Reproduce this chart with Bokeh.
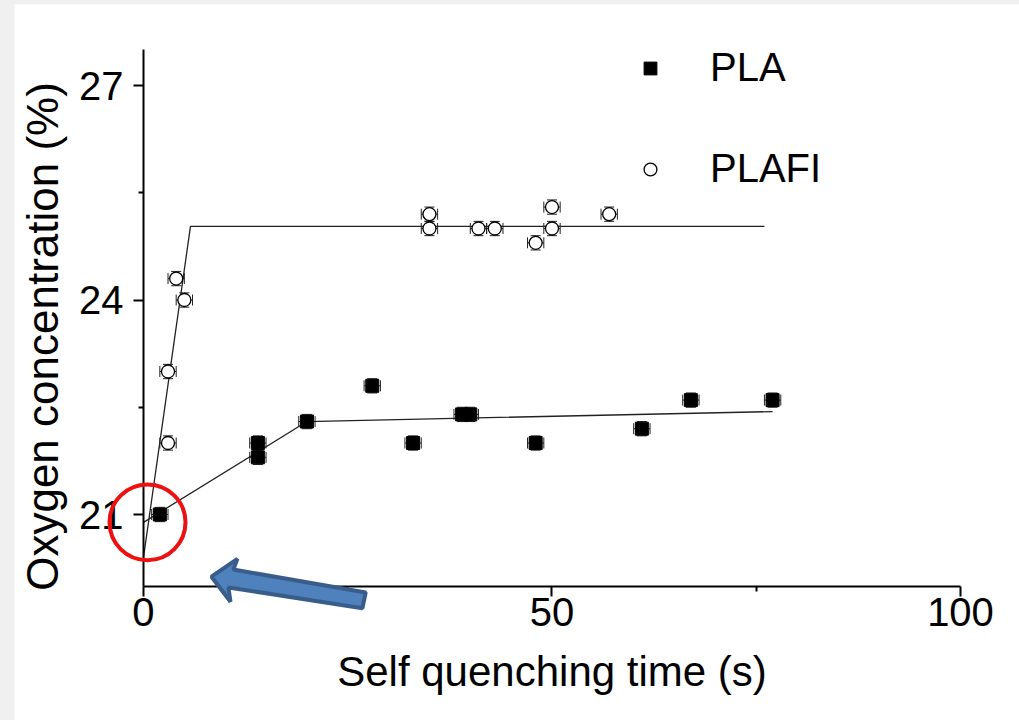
import math
from bokeh.plotting import figure
from bokeh.models import (ColumnDataSource, Whisker, TeeHead, Legend, LegendItem,
                          FixedTicker, PolyAnnotation, BoxAnnotation, Range1d, Label)
from bokeh.layouts import column
from bokeh.embed import file_html
from bokeh.resources import INLINE

# Measured oxygen concentration vs. self quenching time
pla_x = [2, 14, 14, 20, 28, 33, 39, 40, 48, 61, 67, 77]
pla_y = [21.0, 21.8, 22.0, 22.3, 22.8, 22.0, 22.4, 22.4, 22.0, 22.2, 22.6, 22.6]
plafi_x = [3, 3, 4, 5, 35, 35, 41, 43, 48, 50, 50, 57]
plafi_y = [22.0, 23.0, 24.3, 24.0, 25.2, 25.0, 25.0, 25.0, 24.8, 25.3, 25.0, 25.2]

# Uncertainty of each measurement
x_err = 1.0
y_err = 0.1

# Piecewise linear fits
pla_fit_x = [0, 20, 77]
pla_fit_y = [20.89, 22.3, 22.44]
plafi_fit_x = [0, 5.75, 76]
plafi_fit_y = [20.4, 25.03, 25.03]

# Axis extents and ticks
x_bounds = (0, 100)
y_bounds = (20, 27.5)
x_ticks = [0, 50, 100]
x_minor = [25, 75]
y_ticks = [21, 24, 27]
y_minor = [22.5, 25.5]

# Highlight of the intercept region and pointer arrow (data units)
ring_box = dict(left=-4.16, right=5.14, bottom=20.36, top=21.42)
arrow_x = [8.32, 11.5, 11.0, 27.2, 26.8, 10.4, 10.65]
arrow_y = [20.13, 20.38, 20.23, 19.91, 19.69, 19.98, 19.78]

FONT = "Liberation Sans"

# The plotting area spans the whole canvas; the axes sit at fixed data
# positions so that the annotations can reach past the axis lines.
p = figure(width=1005, height=716, output_backend="svg", toolbar_location=None,
           x_range=Range1d(-15.789, 107.222), y_range=Range1d(18.119, 28.133),
           min_border=0, min_border_left=0, min_border_right=0,
           min_border_top=0, min_border_bottom=0)
p.margin = (4, 0, 0, 14)
p.outline_line_color = None
p.grid.visible = False
p.background_fill_color = "white"
p.border_fill_color = "white"

p.xaxis.fixed_location = y_bounds[0]
p.yaxis.fixed_location = x_bounds[0]
p.xaxis.bounds = x_bounds
p.yaxis.bounds = y_bounds

for ax, ticks, minor in ((p.xaxis[0], x_ticks, x_minor), (p.yaxis[0], y_ticks, y_minor)):
    ax.ticker = FixedTicker(ticks=ticks, minor_ticks=minor)
    ax.axis_line_width = 2
    ax.axis_line_color = "black"
    ax.major_tick_line_width = 2
    ax.minor_tick_line_width = 2
    ax.major_tick_line_color = "black"
    ax.minor_tick_line_color = "black"
    ax.major_tick_in = 0
    ax.major_tick_out = 10
    ax.minor_tick_in = 0
    ax.minor_tick_out = 5
    ax.major_label_text_font = FONT
    ax.major_label_text_font_size = "40px"
    ax.major_label_text_color = "black"
    ax.axis_label_text_font = FONT
    ax.axis_label_text_font_style = "normal"
    ax.axis_label_text_color = "black"

p.xaxis.axis_label = "Self quenching time (s)"
p.xaxis.axis_label_text_font_size = "42px"
p.xaxis.major_label_standoff = 2
p.yaxis.major_label_standoff = 10
p.xaxis.axis_label_standoff = 18

# y-axis title, centred a little below the middle of the axis
y_title = Label(x=-12.36, y=23.49, text="Oxygen concentration (%)", angle=math.pi / 2,
                text_align="center", text_baseline="middle", text_font=FONT,
                text_font_size="44px", text_color="black")
p.add_layout(y_title)

pla_src = ColumnDataSource(dict(
    x=pla_x, y=pla_y,
    xl=[v - x_err for v in pla_x], xu=[v + x_err for v in pla_x],
    yl=[v - y_err for v in pla_y], yu=[v + y_err for v in pla_y]))
plafi_src = ColumnDataSource(dict(
    x=plafi_x, y=plafi_y,
    xl=[v - x_err for v in plafi_x], xu=[v + x_err for v in plafi_x],
    yl=[v - y_err for v in plafi_y], yu=[v + y_err for v in plafi_y]))

# fitted trend lines
p.line(pla_fit_x, pla_fit_y, line_color="#222222", line_width=1.3)
p.line(plafi_fit_x, plafi_fit_y, line_color="#222222", line_width=1.3)

# error bars
for src in (pla_src, plafi_src):
    wx = Whisker(source=src, base="y", lower="xl", upper="xu", dimension="width",
                 line_color="#222222", line_width=1, level="underlay",
                 upper_head=TeeHead(size=11, line_color="#222222", line_width=1),
                 lower_head=TeeHead(size=11, line_color="#222222", line_width=1))
    wy = Whisker(source=src, base="x", lower="yl", upper="yu", dimension="height",
                 line_color="#222222", line_width=1, level="underlay",
                 upper_head=TeeHead(size=10, line_color="#222222", line_width=1),
                 lower_head=TeeHead(size=10, line_color="#222222", line_width=1))
    p.add_layout(wx)
    p.add_layout(wy)

r_pla = p.scatter("x", "y", source=pla_src, marker="square", size=13,
                  fill_color="black", line_color="black", line_width=1)
r_plafi = p.scatter("x", "y", source=plafi_src, marker="circle", size=13,
                    fill_color="white", line_color="black", line_width=1.3)

legend = Legend(items=[LegendItem(label="PLA", renderers=[r_pla]),
                       LegendItem(label="PLAFI", renderers=[r_plafi])],
                location=(620, 529), glyph_width=32, glyph_height=32,
                label_standoff=44, spacing=56, padding=0, margin=0,
                label_text_font=FONT, label_text_font_size="40px",
                label_text_color="black", border_line_color=None,
                background_fill_alpha=0)
p.add_layout(legend)

# red ring around the intercept region
ring = BoxAnnotation(**ring_box, fill_alpha=0, line_color="#ee1111", line_alpha=1,
                     line_width=4, border_radius=38, level="overlay")
p.add_layout(ring)

# blue pointer arrow
arrow = PolyAnnotation(xs=arrow_x, ys=arrow_y, fill_color="#4f81bd", fill_alpha=1,
                       line_color="#385d8a", line_alpha=1, line_width=4,
                       level="overlay")
p.add_layout(arrow)

page = column(p, styles={"background-color": "#f0f0f0"})
open("out.html", "w").write(file_html(page, INLINE))
